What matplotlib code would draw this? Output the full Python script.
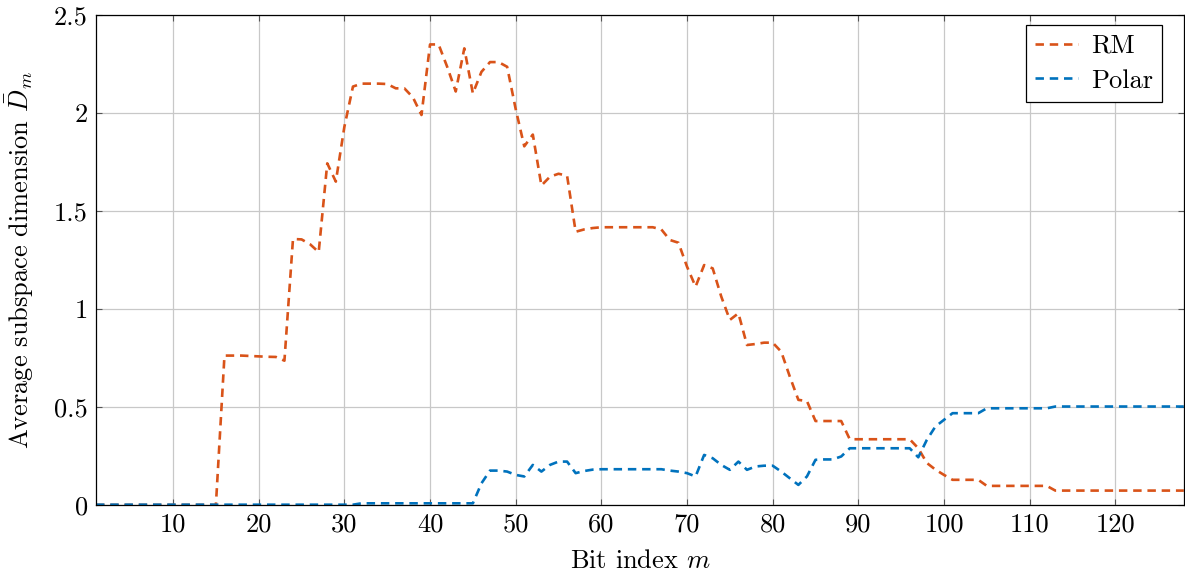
import numpy as np
import matplotlib
matplotlib.use("Agg")
import matplotlib.pyplot as plt

plt.rcParams['font.family'] = 'serif'
plt.rcParams['font.serif'] = ['cmr10', 'DejaVu Serif']
plt.rcParams['mathtext.fontset'] = 'cm'
plt.rcParams['axes.formatter.use_mathtext'] = True

# bit index m = 1..128
bit_index = np.arange(1, 129)

# average subspace dimension, RM code
rm_dim = [0.0] * 15 + [
    0.762, 0.762, 0.762, 0.760, 0.758, 0.756, 0.755, 0.736,         # 16-23
    1.357, 1.355, 1.330, 1.290, 1.743, 1.650, 1.930, 2.135,          # 24-31
    2.150, 2.150, 2.150, 2.148, 2.126, 2.126, 2.080, 1.990,          # 32-39
    2.350, 2.350, 2.236, 2.110, 2.330, 2.100, 2.210, 2.260,          # 40-47
    2.260, 2.236, 2.020, 1.830, 1.890, 1.630, 1.675, 1.690,          # 48-55
    1.680, 1.394, 1.406, 1.413, 1.417, 1.417, 1.417, 1.417,          # 56-63
    1.417, 1.417, 1.417, 1.406, 1.352, 1.338, 1.216, 1.114,          # 64-71
    1.224, 1.207, 1.063, 0.944, 0.978, 0.816, 0.821, 0.828,          # 72-79
    0.828, 0.782, 0.655, 0.536, 0.530, 0.428, 0.428, 0.428,          # 80-87
    0.428, 0.335, 0.335, 0.335, 0.335, 0.335, 0.335, 0.335,          # 88-95
    0.335, 0.289, 0.214, 0.180, 0.153, 0.128, 0.128, 0.128,          # 96-103
    0.128, 0.097, 0.097, 0.097, 0.097, 0.097, 0.097, 0.097,          # 104-111
    0.097] + [0.073] * 16                                            # 112-128

# average subspace dimension, polar code
polar_dim = [0.001] * 31 + [
    0.008] * 14 + [                                                  # 32-45
    0.110, 0.175, 0.175, 0.170, 0.153, 0.145, 0.204, 0.170,          # 46-53
    0.204, 0.221, 0.221, 0.162, 0.173, 0.180, 0.182, 0.182,          # 54-61
    0.182, 0.182, 0.182, 0.182, 0.182, 0.182, 0.175, 0.170,          # 62-69
    0.162, 0.145, 0.255, 0.238, 0.204, 0.179, 0.221, 0.179,          # 70-77
    0.196, 0.200, 0.200, 0.170, 0.136, 0.102, 0.145, 0.230,          # 78-85
    0.232, 0.232, 0.247, 0.289, 0.289, 0.289, 0.289, 0.289,          # 86-93
    0.289, 0.289, 0.289, 0.243, 0.332, 0.400, 0.434, 0.468,          # 94-101
    0.468, 0.468, 0.468, 0.493, 0.493, 0.493, 0.493, 0.493,          # 102-109
    0.493, 0.493, 0.493] + [0.502] * 16                              # 110-128

x_ticks = [10, 20, 30, 40, 50, 60, 70, 80, 90, 100, 110, 120]
y_ticks = [0, 0.5, 1, 1.5, 2, 2.5]
y_tick_labels = ['0', '0.5', '1', '1.5', '2', '2.5']

FS = 19

fig = plt.figure(figsize=(11.85, 5.79), dpi=100)
ax = fig.add_axes([0.081, 0.128, 0.918, 0.846])

ax.plot(bit_index, rm_dim, color='#D95319', lw=1.9, dashes=(3.2, 2.2), label='RM')
ax.plot(bit_index, polar_dim, color='#0072BD', lw=1.9, dashes=(3.2, 2.2), label='Polar')

ax.set_xlim(1, 128)
ax.set_ylim(0, 2.5)
ax.set_xticks(x_ticks)
ax.set_xticklabels([str(t) for t in x_ticks])
ax.set_yticks(y_ticks)
ax.set_yticklabels(y_tick_labels)

ax.grid(True, color='#c8c8c8', lw=0.9)
ax.set_axisbelow(True)
ax.tick_params(direction='in', length=4, width=0.8, color='#555555',
               top=True, right=True, labelsize=FS, pad=6)
for sp in ax.spines.values():
    sp.set_linewidth(0.9)

ax.set_xlabel(r'Bit index $m$', fontsize=FS, labelpad=9)
ax.set_ylabel(r'Average subspace dimension $\bar{D}_m$', fontsize=FS, labelpad=13)

leg = ax.legend(loc='upper right', bbox_to_anchor=(0.98, 0.98), fontsize=FS,
                frameon=True, fancybox=False, framealpha=1, edgecolor='black',
                handlelength=1.6, handletextpad=0.5, borderpad=0.35,
                labelspacing=0.42, borderaxespad=0)
leg.get_frame().set_linewidth(0.9)

fig.savefig('out.png', dpi=100)
